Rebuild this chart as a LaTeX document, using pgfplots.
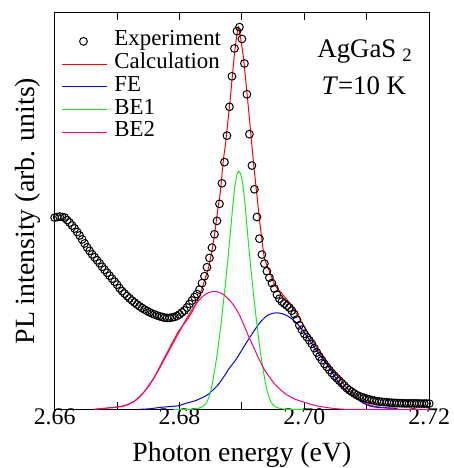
\documentclass[border=0pt]{standalone}
\usepackage{pgfplots}
\pgfplotsset{compat=1.18}
\usepackage{fontspec}
\setmainfont{Liberation Serif}
\definecolor{cRed}{RGB}{255,0,0}
\definecolor{cBlue}{RGB}{0,0,255}
\definecolor{cGreen}{RGB}{20,235,20}
\definecolor{cPink}{RGB}{255,0,120}
\pgfplotsset{explegend/.style={legend image code/.code={\draw[##1, mark repeat=2, mark phase=2] plot coordinates {(0pt,0pt)(21.6pt,0pt)(45pt,0pt)};}}}
\begin{document}
\begin{tikzpicture}
\begin{axis}[
  scale only axis, width=377pt, height=399pt,
  xmin=2.66, xmax=2.72, ymin=0, ymax=399,
  xtick={2.66,2.67,2.68,2.69,2.70,2.71,2.72},
  xticklabels={2.66,,2.68,,2.70,,2.72},
  ytick=\empty,
  tick align=inside, major tick length=7pt,
  tick style={black, line width=0.9pt},
  axis line style={line width=1.1pt},
  xticklabel style={font=\fontsize{24}{24}\selectfont, anchor=base, yshift=-15.5pt},
  clip=false,
  legend cell align=left,
  legend style={at={(rel axis cs:0,1)}, anchor=north west, xshift=6.7pt, yshift=-17pt,
    draw=none, fill=none, font=\fontsize{23}{23}\selectfont, inner sep=0pt,
    row sep=0pt, column sep=7.3pt,
    nodes={inner sep=0pt, text height=16pt, text depth=6.9pt}},
  legend image code/.code={\draw[#1] (0pt,0pt) -- (45pt,0pt);},
]
% Experiment
\addplot[only marks, mark=o, mark size=3.9pt, black, line width=1pt, explegend]
 table[row sep=\\]{
x y\\
2.6600 193\\ 2.6604 193.5\\ 2.6608 194\\ 2.6612 193.5\\ 2.6616 193\\
2.6620 190.5\\ 2.6624 188\\ 2.6628 185\\ 2.6632 182\\ 2.6636 178.5\\
2.6640 175\\ 2.6644 171\\ 2.6648 167\\ 2.6652 163\\ 2.6656 159.5\\
2.6660 156\\ 2.6664 153\\ 2.6668 150\\ 2.6672 147\\ 2.6676 143.5\\
2.6680 140.5\\ 2.6684 137.5\\ 2.6688 134.5\\ 2.6692 131.5\\ 2.6696 128.5\\
2.6700 125.5\\ 2.6704 122\\ 2.6708 119\\ 2.6712 116.5\\ 2.6716 114\\
2.6720 111.7\\ 2.6724 109.5\\ 2.6728 107.5\\ 2.6732 105.5\\ 2.6736 103.7\\
2.6740 102\\ 2.6744 100.5\\ 2.6748 99\\ 2.6752 97.7\\ 2.6756 96.5\\
2.6760 95.5\\ 2.6764 94.5\\ 2.6768 93.7\\ 2.6772 93\\ 2.6776 92.3\\
2.6780 92\\ 2.6784 92\\ 2.6788 92.5\\ 2.6792 93\\ 2.6796 94\\
2.6800 95.5\\ 2.6804 97.5\\ 2.6808 99.5\\ 2.6812 102.5\\ 2.6816 106\\
2.6820 109.5\\ 2.6824 113\\ 2.6828 116\\ 2.6832 120.5\\ 2.6836 127\\
2.6840 134\\ 2.6844 143\\ 2.6848 152.4\\ 2.6852 162.7\\ 2.6856 176.2\\
2.6860 189.7\\ 2.6864 206.8\\ 2.6868 227.5\\ 2.6872 248.8\\ 2.6876 275.5\\
2.6880 304.5\\ 2.6884 335.2\\ 2.6888 363.2\\ 2.6892 380.7\\ 2.6896 384.7\\
2.6900 372.8\\ 2.6904 348.1\\ 2.6908 317.1\\ 2.6912 277\\ 2.6916 245.4\\
2.6920 221.5\\ 2.6924 193.6\\ 2.6928 171.8\\ 2.6932 155.8\\ 2.6936 146.7\\
2.6940 139\\ 2.6944 132.5\\ 2.6948 127.1\\ 2.6952 121.6\\ 2.6956 115.5\\
2.6960 111.3\\ 2.6964 108.4\\ 2.6968 106.4\\ 2.6972 104.4\\ 2.6976 102.4\\
2.6980 99.3\\ 2.6984 95.8\\ 2.6988 90.4\\ 2.6992 84.6\\ 2.6996 80.2\\
2.7000 76\\ 2.7004 72.7\\ 2.7008 69.5\\ 2.7012 65.9\\ 2.7016 61.6\\
2.7020 57.2\\ 2.7024 53.2\\ 2.7028 49.5\\ 2.7032 45.8\\ 2.7036 42.7\\
2.7040 39.7\\ 2.7044 36.5\\ 2.7048 33.8\\ 2.7052 31.3\\ 2.7056 28.8\\
2.7060 26.3\\ 2.7064 23.8\\ 2.7068 21.3\\ 2.7072 19.3\\ 2.7076 17.6\\
2.7080 16\\ 2.7084 14.3\\ 2.7088 13.2\\ 2.7092 12.3\\ 2.7096 11.5\\
2.7100 10.6\\ 2.7104 9.9\\ 2.7108 9.3\\ 2.7112 8.8\\ 2.7116 8.2\\
2.7120 7.8\\ 2.7124 7.6\\ 2.7128 7.3\\ 2.7132 7.1\\ 2.7136 6.8\\
2.7140 6.6\\ 2.7144 6.5\\ 2.7148 6.3\\ 2.7152 6.2\\ 2.7156 6.1\\
2.7160 6\\ 2.7164 6\\ 2.7168 6\\ 2.7172 6\\ 2.7176 6\\
2.7180 5.9\\ 2.7184 5.9\\ 2.7188 5.8\\ 2.7192 5.8\\ 2.7196 5.8\\
2.7200 5.8\\
};
\addlegendentry{Experiment}
% Calculation
\addplot[cRed, line width=1pt, smooth, tension=0.3] coordinates {
(2.66637,0) (2.66796,1) (2.66955,2) (2.67114,3.5) (2.67273,8) (2.67432,17.5)
(2.67592,32) (2.67751,51) (2.67910,70) (2.67989,79) (2.68096,88) (2.68201,98)
(2.68308,112) (2.68387,127) (2.68467,143) (2.68546,169) (2.68615,202) (2.68653,218)
(2.68706,253) (2.68733,265) (2.68812,312) (2.68881,358) (2.68944,385)
(2.69024,354) (2.69103,304) (2.69183,250) (2.69236,218) (2.69290,186) (2.69358,153)
(2.69433,140) (2.69528,125) (2.69633,117) (2.69740,109) (2.69899,94) (2.70058,77)
(2.70165,65.3) (2.70270,55) (2.70377,45.3) (2.70483,37) (2.70588,28.7) (2.70695,20)
(2.70802,13.7) (2.70934,7.5) (2.71066,4) (2.71172,2.5) (2.71332,1.5) (2.71491,1)
};
\addlegendentry{Calculation}
% FE
\addplot[cBlue, line width=1pt, smooth, tension=0.3] coordinates {
(2.67353,0) (2.67512,0.5) (2.67698,2) (2.67883,3) (2.67989,3.7) (2.68096,6)
(2.68255,8.7) (2.68387,12.5) (2.68467,15.3) (2.68546,20) (2.68626,25.3) (2.68733,35)
(2.68785,40.3) (2.68892,49) (2.68944,54) (2.69051,65) (2.69156,75.3) (2.69263,85.3)
(2.69342,91) (2.69422,95) (2.69501,96.8) (2.69581,97) (2.69660,96) (2.69740,93.7)
(2.69820,90) (2.69899,85.3) (2.69979,79) (2.70058,72) (2.70138,64.5) (2.70217,57)
(2.70297,50.5) (2.70377,43.7) (2.70456,36) (2.70536,28.5) (2.70615,22.5) (2.70695,17)
(2.70775,13.5) (2.70854,10) (2.70934,6.5) (2.71066,3) (2.71172,2) (2.71332,1.3) (2.71491,1)
};
\addlegendentry{FE}
% BE1
\addplot[cGreen, line width=1pt, smooth, tension=0.3] coordinates {
(2.67900,0) (2.68188,0) (2.68300,1) (2.68363,2.5) (2.68411,5) (2.68443,8) (2.68475,13)
(2.68506,20) (2.68538,30) (2.68570,42) (2.68602,55) (2.68634,70) (2.68666,86)
(2.68697,104) (2.68729,122) (2.68761,142) (2.68793,163) (2.68825,185) (2.68857,207)
(2.68888,225.5) (2.68920,236) (2.68952,239.7) (2.68984,236) (2.69016,225.5)
(2.69048,207) (2.69079,185) (2.69111,163) (2.69143,142) (2.69175,122) (2.69207,104)
(2.69239,86) (2.69270,70) (2.69302,55) (2.69334,42) (2.69366,30) (2.69398,20)
(2.69430,13) (2.69461,8) (2.69493,5) (2.69541,2.5) (2.69605,1) (2.69716,0) (2.70000,0)
};
\addlegendentry{BE1}
% BE2
\addplot[cPink, line width=1pt, smooth, tension=0.3] coordinates {
(2.66637,0) (2.66796,1) (2.66955,2) (2.67114,3.5) (2.67194,5.3) (2.67273,8)
(2.67353,12) (2.67432,17.5) (2.67512,23.7) (2.67592,31.5) (2.67671,40.3) (2.67751,49.5)
(2.67830,58.7) (2.67910,68) (2.67989,77) (2.68069,86.5) (2.68149,95.3) (2.68228,103)
(2.68308,109.5) (2.68387,114.5) (2.68467,117.5) (2.68546,118.7) (2.68626,118)
(2.68706,115.5) (2.68785,111) (2.68865,105) (2.68944,97) (2.69024,86) (2.69103,74)
(2.69183,63) (2.69263,52) (2.69369,39) (2.69528,25.3) (2.69688,16) (2.69847,10.3)
(2.70006,7) (2.70138,4.5) (2.70270,2.7) (2.70456,1) (2.70695,0) (2.72000,0)
};
\addlegendentry{BE2}
\node[anchor=base west, inner sep=0pt, font=\fontsize{27}{27}\selectfont]
  at (rel axis cs:0.701,0.887) {AgGaS\hspace{0.22em}\raisebox{-0.3ex}{\fontsize{19}{19}\selectfont 2}};
\node[anchor=base west, inner sep=0pt, font=\fontsize{27}{27}\selectfont]
  at (rel axis cs:0.712,0.7945) {\textit{T}=10 K};
\end{axis}
\node[anchor=base, inner sep=0pt, font=\fontsize{28}{28}\selectfont]
  at ([yshift=-53pt]current axis.south) {Photon energy (eV)};
\node[rotate=90, anchor=base, inner sep=0pt, font=\fontsize{28}{28}\selectfont]
  at ([xshift=-20pt]current axis.west) {PL intensity (arb. units)};
\path (current axis.south west) +(-55pt,-56pt);
\path (current axis.north east) +(22pt,13pt);
\end{tikzpicture}
\end{document}
